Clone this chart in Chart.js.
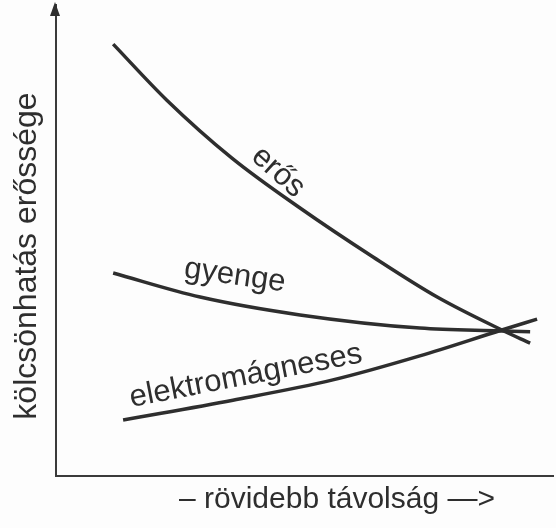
<!DOCTYPE html>
<html>
<head>
<meta charset="utf-8">
<script src="https://cdn.jsdelivr.net/npm/chart.js@4.4.1/dist/chart.umd.min.js"></script>
<style>
  html, body { margin: 0; padding: 0; background: #fdfdfd; }
  #wrap { width: 556px; height: 528px; }
</style>
</head>
<body>
<div id="wrap"><canvas id="chart" width="556" height="528"></canvas></div>
<script>
// curve values (arbitrary units, 0..100)
const erosX = [11.5, 22.3, 35.4, 49.1, 63.8, 76.7, 89.7, 95.4];
const erosY = [91.7, 79.8, 67.5, 56.9, 46.5, 38.0, 31.0, 28.2];

const gyengeX = [11.5, 29.0, 49.1, 73.2, 89.7, 95.4];
const gyengeY = [43.1, 38.0, 34.2, 31.4, 30.8, 30.6];

const emX = [13.5, 35.6, 55.7, 73.2, 89.7, 96.8];
const emY = [11.9, 16.1, 20.4, 25.5, 31.0, 33.3];

const seriesNames = ["erős", "gyenge", "elektromágneses"];
const xTitle = "– rövidebb távolság —>";
const yTitle = "kölcsönhatás erőssége";

const ink = "#2e2e2e";
const font = "'Liberation Sans', Arial, sans-serif";

function points(xs, ys) {
    return xs.map((x, i) => ({ x: x, y: ys[i] }));
}

function lineSet(label, xs, ys) {
    return {
        label: label,
        data: points(xs, ys),
        borderColor: ink,
        borderWidth: 3.5,
        pointRadius: 0,
        cubicInterpolationMode: "monotone",
        fill: false
    };
}

// curve labels: [text, x, y, angle in degrees]
const curveLabels = [
    [seriesNames[0], 44.7, 64.5, 42],
    [seriesNames[1], 36.0, 42.5, 8],
    [seriesNames[2], 38.2, 21.2, -11]
];

const figurePlugin = {
    id: "figure",
    afterDraw(chart) {
        const c = chart.ctx;
        const area = chart.chartArea;
        const xs = chart.scales.x;
        const ys = chart.scales.y;

        c.save();
        // arrow head on the y axis
        c.fillStyle = ink;
        c.beginPath();
        c.moveTo(area.left - 1, area.top - 3);
        c.lineTo(area.left - 6, area.top + 11);
        c.lineTo(area.left + 4, area.top + 11);
        c.closePath();
        c.fill();

        c.fillStyle = ink;
        c.textAlign = "center";
        c.textBaseline = "middle";

        // curve labels
        c.font = "31px " + font;
        curveLabels.forEach(([text, x, y, ang]) => {
            c.save();
            c.translate(xs.getPixelForValue(x), ys.getPixelForValue(y));
            c.rotate(ang * Math.PI / 180);
            c.fillText(text, 0, 0);
            c.restore();
        });

        // axis titles
        c.font = "30px " + font;
        c.textBaseline = "alphabetic";
        c.fillText(xTitle, 337, 508);

        c.save();
        c.font = "32px " + font;
        c.translate(36, 256);
        c.rotate(-Math.PI / 2);
        c.fillText(yTitle, 0, 0);
        c.restore();

        c.restore();
    }
};

new Chart(document.getElementById("chart"), {
    type: "line",
    data: {
        datasets: [
            lineSet(seriesNames[0], erosX, erosY),
            lineSet(seriesNames[1], gyengeX, gyengeY),
            lineSet(seriesNames[2], emX, emY)
        ]
    },
    options: {
        responsive: false,
        animation: false,
        layout: { padding: { left: 56, top: 5, right: 3, bottom: 52 } },
        plugins: {
            legend: { display: false },
            tooltip: { enabled: false }
        },
        scales: {
            x: {
                type: "linear",
                min: 0,
                max: 100,
                grid: { display: false },
                ticks: { display: false },
                border: { display: true, color: "#3a3a3a", width: 2 },
                afterFit(scale) { scale.height = 0; }
            },
            y: {
                type: "linear",
                min: 0,
                max: 100,
                grid: { display: false },
                ticks: { display: false },
                border: { display: true, color: "#3a3a3a", width: 2 },
                afterFit(scale) { scale.width = 0; }
            }
        }
    },
    plugins: [figurePlugin]
});
</script>
</body>
</html>
